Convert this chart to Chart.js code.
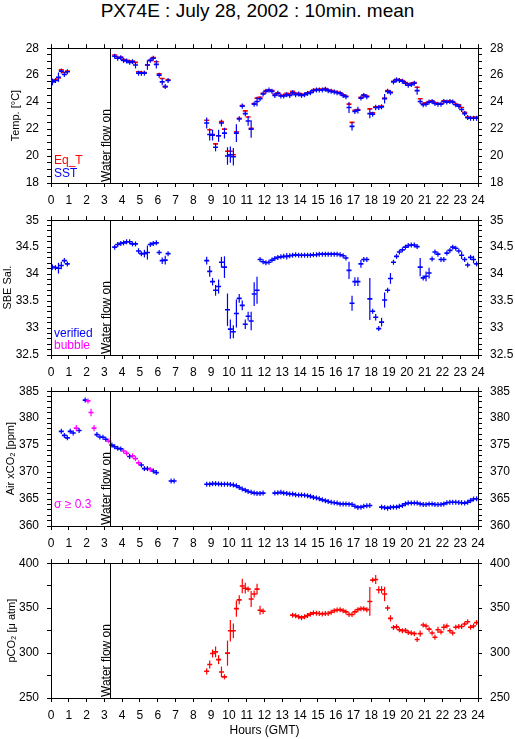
<!DOCTYPE html>
<html>
<head>
<meta charset="utf-8">
<script src="https://cdn.jsdelivr.net/npm/chart.js@4.4.1/dist/chart.umd.min.js"></script>
<style>
  body { margin: 0; background: #fff; }
  #wrap { position: relative; width: 515px; height: 739px; overflow: hidden; }
  #title { position: absolute; left: 0; top: 0; width: 515px; text-align: center;
           font: 19px/22px "Liberation Sans", Arial, sans-serif; color: #000; }
  canvas { position: absolute; left: 0; }
</style>
</head>
<body>
<div id="wrap">
  <div id="title">PX74E : July 28, 2002 : 10min. mean</div>
  <canvas id="tempChart" width="515" height="172" style="top:33px"></canvas>
  <canvas id="salChart" width="515" height="172" style="top:205px"></canvas>
  <canvas id="xco2Chart" width="515" height="172" style="top:376px"></canvas>
  <canvas id="pco2Chart" width="515" height="191" style="top:548px"></canvas>
</div>
<script>
// hora (GMT), SST, error SST, Eq_T
const tempRows = [
  [0.08, 25.5, 0.25, 25.6], [0.25, 25.6, 0.1, 25.65], [0.42, 25.85, 0.35, 25.8], [0.58, 26.3, 0.1, 26.4],
  [0.75, 26.05, 0.1, 26.2], [0.92, 26.25, 0.05, 26.3],
  [3.58, 27.4, 0.05, 27.5], [3.75, 27.25, 0.05, 27.25], [3.92, 27.3, 0.05, 27.35], [4.08, 27.1, 0.05, 27.15],
  [4.25, 27.05, 0.05, 27.1], [4.42, 26.95, 0.1, 27.05], [4.58, 27.0, 0.1, 27.05], [4.75, 26.75, 0.25, 26.95],
  [4.92, 26.15, 0.05, 26.25], [5.08, 26.15, 0.05, 26.2], [5.25, 26.15, 0.05, 26.2], [5.42, 26.75, 0.35, 26.75],
  [5.58, 27.1, 0.1, 27.1], [5.75, 27.25, 0.05, 27.3], [5.92, 26.8, 0.3, 27.0], [6.08, 26.0, 0.05, 26.1],
  [6.25, 25.5, 0.25, 25.75], [6.42, 25.15, 0.1, 25.15], [6.58, 25.6, 0.1, 25.65],
  [8.75, 22.45, 0.4, 22.65], [8.92, 21.6, 0.45, 21.95], [9.08, 21.55, 0.4, 21.6], [9.25, 20.65, 0.3, 20.9],
  [9.42, 21.5, 0.45, 21.5], [9.58, 22.45, 0.25, 22.55], [9.75, 21.7, 0.4, 22.0], [9.92, 20.0, 0.65, 20.35],
  [10.08, 20.1, 0.6, 20.35], [10.25, 19.95, 0.65, 20.1], [10.42, 21.7, 0.65, 21.8], [10.58, 22.75, 0.2, 22.8],
  [10.75, 23.7, 0.2, 23.75], [10.92, 23.15, 0.2, 23.35], [11.08, 22.6, 0.35, 22.9], [11.25, 22.0, 0.65, 22.05],
  [11.42, 23.85, 0.1, 23.9], [11.58, 24.05, 0.35, 24.3], [11.75, 24.25, 0.1, 24.35], [11.92, 24.6, 0.05, 24.65],
  [12.08, 24.8, 0.05, 24.85], [12.25, 24.9, 0.05, 24.9], [12.42, 24.8, 0.05, 24.85], [12.58, 24.5, 0.1, 24.6],
  [12.75, 24.65, 0.05, 24.7], [12.92, 24.45, 0.05, 24.5], [13.08, 24.45, 0.1, 24.5], [13.25, 24.55, 0.1, 24.65],
  [13.42, 24.5, 0.15, 24.6], [13.58, 24.7, 0.05, 24.8], [13.75, 24.55, 0.05, 24.65], [13.92, 24.6, 0.05, 24.65],
  [14.08, 24.5, 0.05, 24.55], [14.25, 24.55, 0.05, 24.6], [14.42, 24.65, 0.05, 24.7], [14.58, 24.7, 0.05, 24.75],
  [14.75, 24.85, 0.05, 24.9], [14.92, 24.9, 0.05, 24.95], [15.08, 24.9, 0.05, 24.95], [15.25, 24.9, 0.05, 24.95],
  [15.42, 24.95, 0.05, 25.0], [15.58, 24.85, 0.05, 24.9], [15.75, 24.8, 0.05, 24.85], [15.92, 24.75, 0.05, 24.8],
  [16.08, 24.7, 0.05, 24.75], [16.25, 24.65, 0.05, 24.7], [16.42, 24.5, 0.05, 24.55], [16.58, 24.4, 0.05, 24.45],
  [16.75, 23.6, 0.4, 23.85], [16.92, 22.2, 0.3, 22.5], [17.08, 23.3, 0.1, 23.4], [17.25, 23.4, 0.25, 23.45],
  [17.42, 24.3, 0.05, 24.35], [17.58, 24.5, 0.05, 24.55], [17.75, 24.4, 0.05, 24.45], [17.92, 23.15, 0.35, 23.5],
  [18.08, 23.1, 0.1, 23.2], [18.25, 23.6, 0.2, 23.65], [18.42, 23.6, 0.05, 23.65], [18.58, 23.65, 0.05, 23.7],
  [18.75, 24.25, 0.35, 24.3], [18.92, 24.8, 0.05, 24.85], [19.08, 24.7, 0.15, 24.75], [19.25, 25.5, 0.05, 25.55],
  [19.42, 25.65, 0.05, 25.7], [19.58, 25.6, 0.05, 25.65], [19.75, 25.55, 0.05, 25.6], [19.92, 25.4, 0.05, 25.45],
  [20.08, 25.25, 0.05, 25.35], [20.25, 25.3, 0.05, 25.4], [20.42, 25.4, 0.05, 25.45], [20.58, 24.85, 0.3, 25.1],
  [20.75, 24.05, 0.1, 24.25], [20.92, 23.8, 0.05, 23.9], [21.08, 23.85, 0.05, 23.95], [21.25, 24.0, 0.05, 24.05],
  [21.42, 24.05, 0.05, 24.1], [21.58, 23.9, 0.1, 23.95], [21.75, 23.85, 0.05, 23.9], [21.92, 23.85, 0.05, 23.9],
  [22.08, 24.05, 0.05, 24.1], [22.25, 24.0, 0.05, 24.05], [22.42, 24.05, 0.05, 24.1], [22.58, 24.0, 0.05, 24.05],
  [22.75, 23.8, 0.05, 23.85], [22.92, 23.7, 0.05, 23.8], [23.08, 23.45, 0.1, 23.6], [23.25, 23.15, 0.05, 23.25],
  [23.42, 22.85, 0.05, 22.9], [23.58, 22.8, 0.05, 22.85], [23.75, 22.8, 0.05, 22.85], [23.92, 22.8, 0.05, 22.9]
];

// hora, salinidad SBE, error
const salRows = [
  [0.08, 34.13, 0.05], [0.25, 34.12, 0.03], [0.42, 34.11, 0.1], [0.58, 34.16, 0.07], [0.75, 34.25, 0.05], [0.92, 34.19, 0.03],
  [3.58, 34.5, 0.02], [3.75, 34.55, 0.02], [3.92, 34.57, 0.02], [4.08, 34.58, 0.02], [4.25, 34.6, 0.02], [4.42, 34.6, 0.02],
  [4.58, 34.56, 0.03], [4.75, 34.56, 0.03], [4.92, 34.43, 0.05], [5.08, 34.38, 0.04], [5.25, 34.38, 0.07], [5.42, 34.4, 0.13],
  [5.58, 34.55, 0.02], [5.75, 34.57, 0.02], [5.92, 34.58, 0.02], [6.08, 34.4, 0.03], [6.25, 34.25, 0.06], [6.42, 34.26, 0.08],
  [6.58, 34.38, 0.03],
  [8.75, 34.25, 0.07], [8.92, 34.05, 0.1], [9.08, 33.86, 0.07], [9.25, 33.7, 0.1], [9.42, 33.77, 0.13], [9.58, 34.22, 0.1],
  [9.75, 34.13, 0.2], [9.92, 33.34, 0.3], [10.08, 32.98, 0.18], [10.25, 32.93, 0.12], [10.42, 33.27, 0.26], [10.58, 33.55, 0.08],
  [10.75, 33.42, 0.09], [10.92, 33.07, 0.09], [11.08, 33.22, 0.08], [11.25, 33.13, 0.17], [11.42, 33.63, 0.22], [11.58, 33.7, 0.25],
  [11.75, 34.27, 0.03], [11.92, 34.23, 0.02], [12.08, 34.21, 0.02], [12.25, 34.22, 0.02], [12.42, 34.26, 0.02], [12.58, 34.29, 0.03],
  [12.75, 34.31, 0.02], [12.92, 34.32, 0.02], [13.08, 34.33, 0.02], [13.25, 34.33, 0.06], [13.42, 34.34, 0.02], [13.58, 34.35, 0.03],
  [13.75, 34.36, 0.02], [13.92, 34.35, 0.02], [14.08, 34.35, 0.02], [14.25, 34.35, 0.02], [14.42, 34.35, 0.02], [14.58, 34.35, 0.02],
  [14.75, 34.36, 0.02], [14.92, 34.36, 0.02], [15.08, 34.37, 0.02], [15.25, 34.37, 0.02], [15.42, 34.37, 0.02], [15.58, 34.37, 0.02],
  [15.75, 34.37, 0.02], [15.92, 34.37, 0.02], [16.08, 34.37, 0.02], [16.25, 34.36, 0.02], [16.42, 34.34, 0.02], [16.58, 34.3, 0.02],
  [16.75, 34.07, 0.16], [16.92, 33.46, 0.14], [17.08, 33.86, 0.08], [17.25, 33.86, 0.08], [17.42, 34.19, 0.07], [17.58, 34.27, 0.02],
  [17.75, 34.27, 0.02], [17.92, 33.54, 0.39], [18.08, 33.31, 0.04], [18.25, 33.2, 0.06], [18.42, 32.99, 0.03], [18.58, 33.11, 0.08],
  [18.75, 33.52, 0.14], [18.92, 33.7, 0.03], [19.08, 33.92, 0.1], [19.25, 34.22, 0.04], [19.42, 34.33, 0.03], [19.58, 34.41, 0.03],
  [19.75, 34.45, 0.02], [19.92, 34.5, 0.02], [20.08, 34.53, 0.02], [20.25, 34.54, 0.02], [20.42, 34.54, 0.02], [20.58, 34.51, 0.02],
  [20.75, 34.13, 0.17], [20.92, 33.93, 0.03], [21.08, 33.96, 0.09], [21.25, 34.02, 0.1], [21.42, 34.28, 0.04], [21.58, 34.41, 0.03],
  [21.75, 34.37, 0.03], [21.92, 34.27, 0.04], [22.08, 34.27, 0.04], [22.25, 34.39, 0.03], [22.42, 34.44, 0.02], [22.58, 34.5, 0.02],
  [22.75, 34.48, 0.02], [22.92, 34.43, 0.02], [23.08, 34.35, 0.07], [23.25, 34.27, 0.04], [23.42, 34.17, 0.04], [23.58, 34.31, 0.04],
  [23.75, 34.27, 0.07], [23.92, 34.19, 0.03]
];

// hora, xCO2 aire, error, 1 = sigma >= 0.3
const xco2Rows = [
  [0.58, 377.55, 0.1, 0], [0.75, 376.8, 0.2, 0], [0.92, 376.35, 0.2, 0], [1.08, 377.55, 0.15, 0], [1.25, 377.25, 0.1, 0],
  [1.42, 378.15, 0.6, 1], [1.58, 377.7, 0.3, 0], [1.92, 383.35, 0.1, 0], [2.08, 383.2, 0.3, 1], [2.25, 381.05, 0.7, 1],
  [2.42, 378.15, 0.6, 1], [2.58, 376.95, 0.1, 0], [2.75, 376.5, 0.1, 0], [2.92, 376.45, 0.1, 0], [3.08, 376.1, 0.1, 0],
  [3.25, 375.75, 0.3, 1], [3.42, 375.0, 0.1, 0], [3.58, 374.7, 0.1, 0], [3.75, 374.4, 0.1, 0], [3.92, 374.3, 0.1, 0],
  [4.08, 373.9, 0.3, 1], [4.25, 373.5, 0.3, 1], [4.42, 372.9, 0.1, 0], [4.58, 373.0, 0.4, 1], [4.75, 372.5, 0.4, 1],
  [4.92, 371.7, 0.3, 1], [5.08, 371.3, 0.1, 0], [5.25, 370.65, 0.1, 0], [5.42, 370.65, 0.1, 0], [5.58, 370.5, 0.4, 1],
  [5.75, 370.2, 0.1, 0], [5.92, 369.9, 0.1, 0],
  [6.75, 368.35, 0.05, 0], [6.92, 368.35, 0.05, 0],
  [8.75, 367.75, 0.05, 0], [8.92, 367.75, 0.05, 0], [9.08, 367.85, 0.05, 0], [9.25, 367.85, 0.05, 0], [9.42, 367.8, 0.05, 0],
  [9.58, 367.75, 0.05, 0], [9.75, 367.75, 0.05, 0], [9.92, 367.75, 0.05, 0], [10.08, 367.7, 0.05, 0], [10.25, 367.6, 0.05, 0],
  [10.42, 367.45, 0.05, 0], [10.58, 367.15, 0.05, 0], [10.75, 366.85, 0.05, 0], [10.92, 366.65, 0.05, 0], [11.08, 366.4, 0.05, 0],
  [11.25, 366.25, 0.05, 0], [11.42, 366.1, 0.05, 0], [11.58, 366.05, 0.05, 0], [11.75, 366.05, 0.05, 0], [11.92, 366.1, 0.05, 0],
  [12.58, 366.1, 0.05, 0], [12.75, 366.15, 0.05, 0], [12.92, 366.25, 0.05, 0], [13.08, 366.1, 0.05, 0], [13.25, 366.05, 0.05, 0],
  [13.42, 365.95, 0.05, 0], [13.58, 365.95, 0.05, 0], [13.75, 365.8, 0.05, 0], [13.92, 365.75, 0.05, 0], [14.08, 365.75, 0.05, 0],
  [14.25, 365.7, 0.05, 0], [14.42, 365.6, 0.05, 0], [14.58, 365.5, 0.05, 0], [14.75, 365.3, 0.05, 0], [14.92, 365.2, 0.05, 0],
  [15.08, 365.05, 0.05, 0], [15.25, 364.85, 0.05, 0], [15.42, 364.7, 0.05, 0], [15.58, 364.55, 0.05, 0], [15.75, 364.4, 0.05, 0],
  [15.92, 364.3, 0.05, 0], [16.08, 364.25, 0.05, 0], [16.25, 364.1, 0.05, 0], [16.42, 364.1, 0.05, 0], [16.58, 364.1, 0.05, 0],
  [16.75, 364.05, 0.05, 0], [16.92, 364.0, 0.05, 0], [17.08, 363.65, 0.05, 0], [17.25, 363.45, 0.05, 0], [17.42, 363.5, 0.05, 0],
  [17.58, 363.65, 0.05, 0], [17.75, 363.75, 0.05, 0], [17.92, 363.8, 0.05, 0],
  [18.58, 363.5, 0.05, 0], [18.75, 363.4, 0.05, 0], [18.92, 363.3, 0.05, 0], [19.08, 363.45, 0.05, 0], [19.25, 363.5, 0.05, 0],
  [19.42, 363.5, 0.05, 0], [19.58, 363.65, 0.05, 0], [19.75, 363.8, 0.05, 0], [19.92, 364.1, 0.05, 0], [20.08, 364.25, 0.05, 0],
  [20.25, 364.25, 0.05, 0], [20.42, 364.25, 0.05, 0], [20.58, 364.25, 0.05, 0], [20.75, 364.1, 0.05, 0], [20.92, 364.0, 0.05, 0],
  [21.08, 364.0, 0.05, 0], [21.25, 364.1, 0.05, 0], [21.42, 364.1, 0.05, 0], [21.58, 364.0, 0.05, 0], [21.75, 364.0, 0.05, 0],
  [21.92, 364.0, 0.05, 0], [22.08, 364.1, 0.05, 0], [22.25, 364.3, 0.05, 0], [22.42, 364.4, 0.05, 0], [22.58, 364.4, 0.05, 0],
  [22.75, 364.4, 0.05, 0], [22.92, 364.35, 0.05, 0], [23.08, 364.3, 0.05, 0], [23.25, 364.25, 0.05, 0], [23.42, 364.4, 0.05, 0],
  [23.58, 364.7, 0.05, 0], [23.75, 365.0, 0.05, 0], [23.92, 365.05, 0.05, 0]
];

// hora, pCO2 agua, error
const pco2Rows = [
  [8.75, 279.7, 3.5], [8.92, 287.2, 4.5], [9.08, 299.5, 4.5], [9.25, 301.3, 6], [9.42, 292.7, 5], [9.58, 279.0, 6],
  [9.75, 273.5, 2], [9.92, 299.9, 14], [10.08, 324.8, 12], [10.25, 324.8, 8], [10.42, 349.4, 9], [10.58, 359.2, 5],
  [10.75, 374.7, 8], [10.92, 372.2, 6], [11.08, 371.1, 3], [11.25, 360.2, 9], [11.42, 365.7, 4], [11.58, 371.1, 6],
  [11.75, 347.6, 5], [11.92, 346.5, 3],
  [13.58, 342.2, 1], [13.75, 341.5, 2], [13.92, 340.4, 1], [14.08, 339.3, 1], [14.25, 340.4, 1], [14.42, 341.8, 1],
  [14.58, 343.3, 1], [14.75, 344.7, 1], [14.92, 344.3, 1], [15.08, 344.0, 1], [15.25, 343.6, 1], [15.42, 344.0, 1],
  [15.58, 344.0, 1], [15.75, 345.4, 1], [15.92, 347.2, 1], [16.08, 348.0, 1], [16.25, 348.3, 1], [16.42, 347.2, 1],
  [16.58, 345.8, 1], [16.75, 342.9, 2], [16.92, 342.9, 2], [17.08, 345.8, 2], [17.25, 348.3, 2], [17.42, 349.4, 1],
  [17.58, 349.4, 1], [17.75, 348.3, 1], [17.92, 357.4, 16], [18.08, 381.2, 2], [18.25, 381.9, 5], [18.42, 370.4, 4],
  [18.58, 370.4, 4], [18.75, 365.7, 8], [18.92, 350.1, 3], [19.08, 338.6, 3.5], [19.25, 328.4, 1.5], [19.42, 329.2, 1],
  [19.58, 325.9, 1], [19.75, 324.8, 1], [19.92, 325.2, 1], [20.08, 323.0, 1], [20.25, 322.3, 1], [20.42, 321.6, 1],
  [20.58, 315.1, 2], [20.75, 321.6, 3.5], [20.92, 331.3, 1], [21.08, 330.2, 1], [21.25, 326.6, 1.5], [21.42, 322.3, 2],
  [21.58, 317.6, 1.5], [21.75, 325.9, 3.5], [21.92, 323.4, 1], [22.08, 328.8, 3.5], [22.25, 330.2, 1], [22.42, 324.8, 1],
  [22.58, 322.3, 1], [22.75, 328.8, 2], [22.92, 329.5, 1], [23.08, 329.5, 1.5], [23.25, 332.4, 1.5], [23.42, 334.9, 1.5],
  [23.58, 328.8, 2], [23.75, 330.2, 2], [23.92, 333.9, 1]
];

const waterFlowOn = 3.3;
const AZUL = '#0000ff', ROJO = '#ff0000', MAGENTA = '#ff00ff';

Chart.defaults.font.family = '"Liberation Sans", Arial, sans-serif';
Chart.defaults.font.size = 12;
Chart.defaults.color = '#000';

// barras verticales de error (el trazo horizontal lo pone pointStyle 'line')
const errorBars = {
    id: 'errorBars',
    afterDatasetDraw(chart, args) {
        const ds = chart.data.datasets[args.index];
        if (!ds.errors) return;
        const ctx = chart.ctx;
        const xs = chart.scales.x, ys = chart.scales.y;
        ctx.save();
        ctx.lineWidth = 1.2;
        ds.data.forEach((p, i) => {
            const px = xs.getPixelForValue(p.x);
            const py = ys.getPixelForValue(p.y);
            const e = Math.max(Math.abs(ys.getPixelForValue(p.y + ds.errors[i]) - py), 2.5);
            ctx.strokeStyle = Array.isArray(ds.pointBorderColor) ? ds.pointBorderColor[i] : ds.pointBorderColor;
            ctx.beginPath();
            ctx.moveTo(px, py - e);
            ctx.lineTo(px, py + e);
            ctx.stroke();
        });
        ctx.restore();
    }
};

// linea "Water flow on" y leyendas de texto
const notes = {
    id: 'notes',
    afterDraw(chart, args, opts) {
        const ctx = chart.ctx;
        const area = chart.chartArea;
        const lx = Math.round(chart.scales.x.getPixelForValue(waterFlowOn)) + 0.5;
        ctx.save();
        ctx.strokeStyle = '#000';
        ctx.lineWidth = 1;
        ctx.beginPath();
        ctx.moveTo(lx, area.top);
        ctx.lineTo(lx, area.bottom);
        ctx.stroke();

        ctx.font = '12px "Liberation Sans", Arial, sans-serif';
        ctx.fillStyle = '#000';
        ctx.translate(lx - 1, area.bottom - 1);
        ctx.rotate(-Math.PI / 2);
        ctx.textAlign = 'left';
        ctx.textBaseline = 'alphabetic';
        ctx.fillText('Water flow on', 0, 0);
        ctx.restore();

        ctx.save();
        ctx.font = '12px "Liberation Sans", Arial, sans-serif';
        ctx.textAlign = 'left';
        (opts.labels || []).forEach(l => {
            ctx.fillStyle = l.color;
            ctx.fillText(l.text, area.left + 3, area.bottom - l.dy);
        });
        ctx.restore();
    }
};

function fmt(v) {
    return String(Number(v.toFixed(2)));
}

function crear(id, cfg) {
    const axisGrid = { drawOnChartArea: false, color: '#000', tickLength: 4 };
    const borde = { color: '#000', width: 1 };
    const esMayor = v => Math.abs(v / cfg.major - Math.round(v / cfg.major)) < 1e-6;
    const yTicks = {
        stepSize: cfg.minor, autoSkip: false, padding: 8, color: '#000',
        callback: v => esMayor(v) ? fmt(v) : ''
    };
    return new Chart(document.getElementById(id), {
        type: 'scatter',
        data: { datasets: cfg.datasets },
        options: {
            responsive: false,
            animation: false,
            devicePixelRatio: 1,
            layout: { padding: 0 },
            plugins: {
                legend: { display: false },
                tooltip: { enabled: false },
                notes: { labels: cfg.labels }
            },
            scales: {
                x: {
                    type: 'linear', position: 'bottom', min: 0, max: 24,
                    ticks: { stepSize: 1, autoSkip: false, maxRotation: 0, padding: 6, color: '#000' },
                    grid: axisGrid, border: borde,
                    title: cfg.xTitle ? { display: true, text: cfg.xTitle, color: '#000', padding: { top: 0, bottom: 1 } } : { display: false },
                    afterFit: s => { s.height = cfg.bottomH; }
                },
                xTop: {
                    type: 'linear', position: 'top', min: 0, max: 24,
                    ticks: { stepSize: 1, display: false },
                    grid: axisGrid, border: borde,
                    afterFit: s => { s.height = 12; }
                },
                y: {
                    type: 'linear', position: 'left', min: cfg.min, max: cfg.max,
                    ticks: yTicks, grid: axisGrid, border: borde,
                    title: { display: true, text: cfg.yTitle, color: '#000', font: { size: 11 }, padding: { top: cfg.titlePad, bottom: 0 } },
                    afterFit: s => { s.width = 51; }
                },
                y2: {
                    type: 'linear', position: 'right', min: cfg.min, max: cfg.max,
                    ticks: yTicks, grid: axisGrid, border: borde,
                    afterFit: s => { s.width = 37; }
                }
            }
        },
        plugins: [errorBars, notes]
    });
}

function serie(rows, col, color, errCol) {
    return {
        data: rows.map(r => ({ x: r[0], y: r[col] })),
        errors: errCol != null ? rows.map(r => r[errCol]) : null,
        pointStyle: 'line',
        pointRadius: 2.5,
        pointBorderWidth: 1.6,
        pointBorderColor: color,
        borderColor: color,
        showLine: false,
        xAxisID: 'x',
        yAxisID: 'y'
    };
}

// Temperatura: SST encima de Eq_T
crear('tempChart', {
    min: 18, max: 28, minor: 0.5, major: 2, bottomH: 22, titlePad: 9,
    yTitle: 'Temp. [°C]',
    datasets: [serie(tempRows, 1, AZUL, 2), serie(tempRows, 3, ROJO, null)],
    labels: [{ text: 'Eq_T', color: ROJO, dy: 19 }, { text: 'SST', color: AZUL, dy: 6 }]
});

crear('salChart', {
    min: 32.5, max: 35, minor: 0.1, major: 0.5, bottomH: 22, titlePad: 1,
    yTitle: 'SBE Sal.',
    datasets: [serie(salRows, 1, AZUL, 2)],
    labels: [{ text: 'verified', color: AZUL, dy: 18 }, { text: 'bubble', color: MAGENTA, dy: 6 }]
});

const xco2Serie = serie(xco2Rows, 1, AZUL, 2);
xco2Serie.pointBorderColor = xco2Rows.map(r => r[3] ? MAGENTA : AZUL);
crear('xco2Chart', {
    min: 360, max: 385, minor: 1, major: 5, bottomH: 22, titlePad: 4,
    yTitle: 'Air xCO₂ [ppm]',
    datasets: [xco2Serie],
    labels: [{ text: 'σ ≥ 0.3', color: MAGENTA, dy: 18 }]
});

crear('pco2Chart', {
    min: 250, max: 400, minor: 25, major: 50, bottomH: 41, titlePad: 5,
    yTitle: 'pCO₂ [μ atm]', xTitle: 'Hours (GMT)',
    datasets: [serie(pco2Rows, 1, ROJO, 2)],
    labels: []
});
</script>
</body>
</html>
